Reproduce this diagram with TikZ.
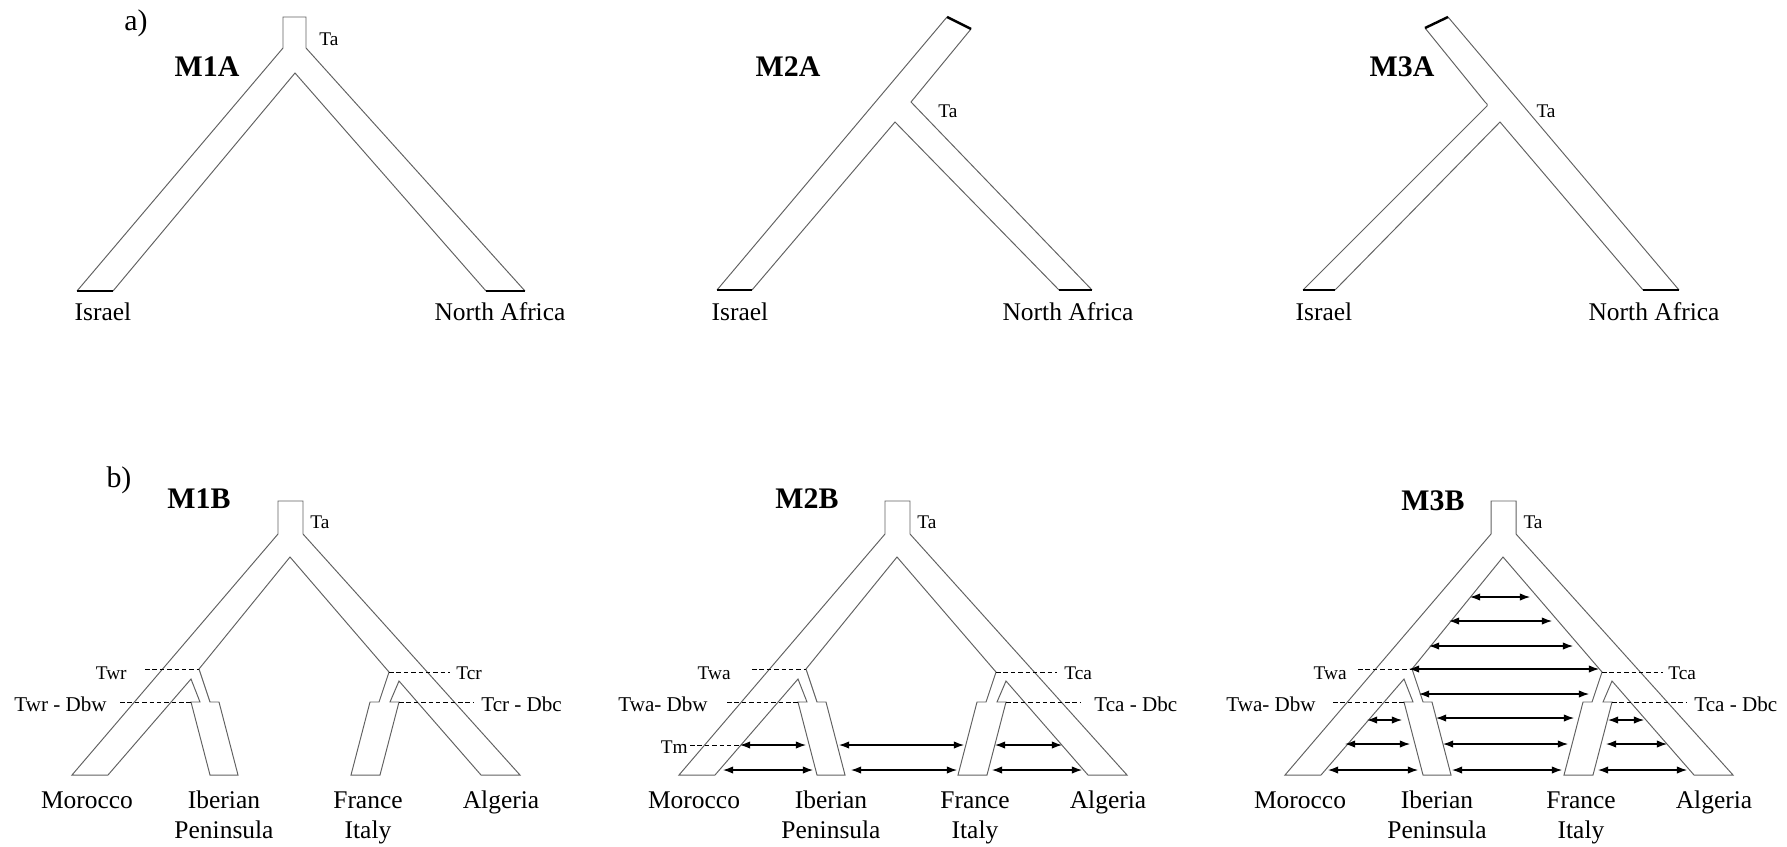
\documentclass[tikz,border=0pt]{standalone}
\usepackage{fontspec}
\setmainfont{Liberation Serif}
\usetikzlibrary{arrows.meta}

\begin{document}
\begin{tikzpicture}[x=0.02cm, y=-0.02cm,
        branch/.style={black!62, line width=0.55pt},
        tipbar/.style={black, line width=1.4pt},
        tline/.style={black, line width=0.5pt, dash pattern=on 2.6pt off 1.6pt},
        mig/.style={black, line width=0.6pt, {Latex[length=5.8pt,width=4.2pt]}-{Latex[length=5.8pt,width=4.2pt]}},
        pop/.style={anchor=base, inner sep=0pt, font=\fontsize{14.5}{17}\selectfont},
        tlab/.style={anchor=base, inner sep=0pt, font=\fontsize{11}{13}\selectfont},
        dlab/.style={inner sep=0pt, font=\fontsize{12}{14}\selectfont},
        mname/.style={anchor=base, inner sep=0pt, font=\fontsize{17}{20}\selectfont\bfseries},
        panel/.style={anchor=base, inner sep=0pt, font=\fontsize{17}{20}\selectfont}]
    \useasboundingbox (0,0) rectangle (1787,846);

    % a) Israel / North Africa
    \node[panel] (pa) at (136,30) {a)};
    % M1A
    \node[mname] (m1a) at (207,76) {M1A};
    \draw[branch] (77,291) -- (283,48) -- (283,17) -- (306,17) -- (306,48) -- (525,291);  % outer edge
    \draw[branch] (113,291) -- (295,73) -- (486,291);  % inner edge
    \draw[tipbar] (77,291) -- (113,291);  % Israel tip
    \draw[tipbar] (486,291) -- (525,291);  % North Africa tip
    \node[tlab] (ta1) at (329,45) {Ta};
    \node[pop] (isr1) at (103,320) {Israel};
    \node[pop] (naf1) at (500,320) {North Africa};

    % M2A
    \node[mname] (m2a) at (788,76) {M2A};
    \draw[branch] (717,290) -- (947,17);  % Israel edge runs into the stem
    \draw[branch] (971,29) -- (911,102) -- (1092,290);  % North Africa outer edge
    \draw[branch] (752,290) -- (895,122) -- (1059,290);  % inner edge
    \draw[tipbar] (947,17) -- (971,29);  % stem top
    \draw[tipbar] (717,290) -- (752,290);
    \draw[tipbar] (1059,290) -- (1092,290);
    \node[tlab] (ta2) at (948,117) {Ta};
    \node[pop] (isr2) at (740,320) {Israel};
    \node[pop] (naf2) at (1068,320) {North Africa};

    % M3A
    \node[mname] (m3a) at (1402,76) {M3A};
    \draw[branch] (1679,290) -- (1448,17);  % North Africa edge runs into the stem
    \draw[branch] (1425,28) -- (1485,102) -- (1487,104) -- (1487,106) -- (1303,290);  % Israel outer edge
    \draw[branch] (1335,290) -- (1500,122) -- (1643,290);  % inner edge
    \draw[tipbar] (1425,28) -- (1448,17);  % stem top
    \draw[tipbar] (1303,290) -- (1335,290);
    \draw[tipbar] (1643,290) -- (1679,290);
    \node[tlab] (ta3) at (1546,117) {Ta};
    \node[pop] (isr3) at (1324,320) {Israel};
    \node[pop] (naf3) at (1654,320) {North Africa};

    % b) four populations, same outline three times
    \node[panel] (pb) at (119,487) {b)};
    \foreach \dx in {0,607,1213}{
      \begin{scope}[shift={(\dx,0)}]
        \draw[branch] (72,775) -- (278,534) -- (278,501) -- (303,501) -- (303,534) -- (520,775)
            -- (481,775) -- (399,681) -- (390,702) -- (399,702) -- (380,775) -- (351,775)
            -- (370,702) -- (379,702) -- (389,672) -- (290,557) -- (199,669) -- (210,702)
            -- (219,702) -- (238,775) -- (210,775) -- (191,702) -- (200,702) -- (191,679)
            -- (108,775) -- cycle;
        \draw[tline] (145,669) -- (199,669);  % west split
        \draw[tline] (120,702) -- (191,702);  % west bottleneck
        \draw[tline] (389,672) -- (450,672);  % central split
        \draw[tline] (399,702) -- (473,702);  % central bottleneck
        \node[tlab] (ta\dx) at (320,528) {Ta};
        \node[pop] (mor\dx) at (87,808) {Morocco};
        \node[pop] (ibe\dx) at (224,808) {Iberian};
        \node[pop] (pen\dx) at (224,838) {Peninsula};
        \node[pop] (fra\dx) at (368,808) {France};
        \node[pop] (ita\dx) at (368,838) {Italy};
        \node[pop] (alg\dx) at (501,808) {Algeria};
      \end{scope}
    }

    % M1B
    \node[mname] (m1b) at (199,508) {M1B};
    \node[tlab, anchor=base east] (twr) at (127,679) {Twr};
    \node[dlab, anchor=base east] (twrd) at (107,711) {Twr - Dbw};
    \node[tlab, anchor=base west] (tcr) at (456,679) {Tcr};
    \node[dlab, anchor=base west] (tcrd) at (481,711) {Tcr - Dbc};

    % M2B
    \node[mname] (m2b) at (807,508) {M2B};
    \node[tlab, anchor=base east] (twa2) at (731,679) {Twa};
    \node[dlab, anchor=base east] (twad2) at (708,711) {Twa- Dbw};
    \node[tlab, anchor=base east] (tm) at (688,753) {Tm};
    \node[tlab, anchor=base west] (tca2) at (1064,679) {Tca};
    \node[dlab, anchor=base west] (tcad2) at (1094,711) {Tca - Dbc};
    \draw[tline] (690,745) -- (740,745);  % migration start
    \begin{scope}[shift={(607,0)}]
      \foreach \y/\a/\b in {745/133/199, 770/116/206, 745/232/357, 770/244/350, 745/388/455, 770/385/475}
        \draw[mig] (\a,\y) -- (\b,\y);
    \end{scope}

    % M3B
    \node[mname] (m3b) at (1433,510) {M3B};
    \node[tlab, anchor=base east] (twa3) at (1347,679) {Twa};
    \node[dlab, anchor=base east] (twad3) at (1316,711) {Twa- Dbw};
    \node[tlab, anchor=base west] (tca3) at (1668,679) {Tca};
    \node[dlab, anchor=base west] (tcad3) at (1694,711) {Tca - Dbc};
    \begin{scope}[shift={(1213,0)}]
      \foreach \y/\a/\b in {597/257/317, 621/236/339, 646/216/360, 669/196/386, 694/206/376,
          718/223/361, 744/230/355, 770/239/349,
          720/154/189, 744/132/197, 770/115/205,
          720/395/431, 744/393/454, 770/385/474}
        \draw[mig] (\a,\y) -- (\b,\y);
    \end{scope}
\end{tikzpicture}
\end{document}
